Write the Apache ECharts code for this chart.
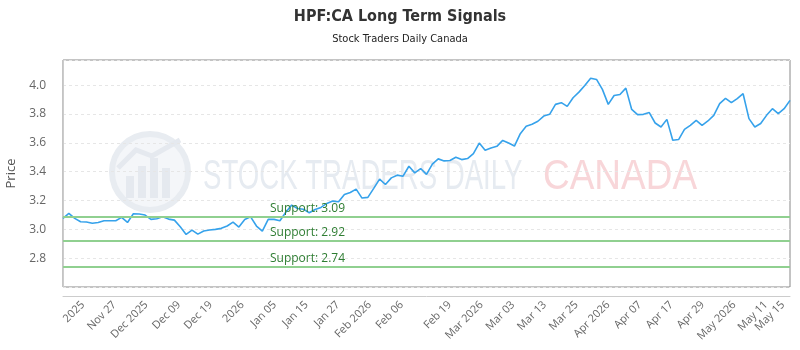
<!DOCTYPE html>
<html>
<head>
<meta charset="utf-8">
<script src="https://cdn.jsdelivr.net/npm/echarts@6/dist/echarts.min.js"></script>
<style>
html,body{margin:0;padding:0;background:#fff;}
#chart{width:800px;height:350px;}
</style>
</head>
<body>
<div id="chart"></div>
<script>
// ---- data ----
const prices = [
  3.076,3.111,3.076,3.053,3.051,3.042,3.048,3.060,3.060,3.060,
  3.083,3.048,3.108,3.106,3.099,3.069,3.073,3.087,3.071,3.064,
  3.018,2.965,2.995,2.967,2.988,2.995,3.000,3.007,3.023,3.050,
  3.016,3.069,3.087,3.023,2.988,3.069,3.069,3.060,3.119,3.168,
  3.145,3.140,3.115,3.138,3.152,3.180,3.196,3.191,3.242,3.256,
  3.279,3.217,3.222,3.284,3.348,3.311,3.357,3.376,3.369,3.438,
  3.392,3.422,3.381,3.452,3.489,3.475,3.478,3.500,3.484,3.491,
  3.526,3.599,3.548,3.564,3.576,3.617,3.599,3.578,3.664,3.715,
  3.729,3.750,3.786,3.798,3.867,3.879,3.853,3.913,3.952,3.998,
  4.049,4.040,3.971,3.867,3.929,3.936,3.980,3.832,3.796,3.798,
  3.810,3.738,3.710,3.763,3.618,3.623,3.694,3.722,3.756,3.722,
  3.752,3.791,3.872,3.909,3.879,3.907,3.941,3.768,3.710,3.734,
  3.791,3.837,3.803,3.837,3.895
];
const tickLabels = ["2025","Nov 27","Dec 2025","Dec 09","Dec 19","2026","Jan 05","Jan 15","Jan 27",
  "Feb 2026","Feb 06","Feb 19","Mar 2026","Mar 03","Mar 13","Mar 25","Apr 2026","Apr 07",
  "Apr 17","Apr 29","May 2026","May 11","May 15"];
const tickIndex = [3.40,8.80,14.21,19.78,25.19,30.60,36.11,41.52,46.91,52.32,57.78,65.97,
  71.38,76.77,82.18,87.59,92.99,98.40,103.8,109.1,114.5,119.9,122.8];
const supports = [3.09, 2.92, 2.74];
const yTicks = {min: 2.6, max: 4.175, interval: 0.2};

const chart = echarts.init(document.getElementById('chart'), null, {renderer: 'canvas'});
const seriesData = prices.map((v, i) => [i, v]);
const narrow = "'Liberation Sans Narrow','DejaVu Sans Condensed','Roboto Condensed',sans-serif";
const axisFont = "'Open Sans','Noto Sans',sans-serif";

const option = {
  animation: false,
  backgroundColor: '#fff',
  title: {
    text: 'HPF:CA Long Term Signals',
    subtext: 'Stock Traders Daily Canada',
    left: 'center',
    top: 4,
    itemGap: 9,
    textStyle: {fontFamily: narrow, fontSize: 16, fontWeight: 'bold', color: '#333'},
    subtextStyle: {fontFamily: narrow, fontSize: 11, color: '#222'}
  },
  graphic: [
    {type: 'circle', z: 0, shape: {cx: 150, cy: 172, r: 38}, style: {fill: '#f4f6f9', stroke: '#e8ecf1', lineWidth: 6}},
    {type: 'rect', z: 0, shape: {x: 126, y: 176, width: 8, height: 22}, style: {fill: '#e5e9ef'}},
    {type: 'rect', z: 0, shape: {x: 138, y: 166, width: 8, height: 32}, style: {fill: '#e5e9ef'}},
    {type: 'rect', z: 0, shape: {x: 150, y: 158, width: 8, height: 40}, style: {fill: '#e5e9ef'}},
    {type: 'rect', z: 0, shape: {x: 162, y: 168, width: 8, height: 30}, style: {fill: '#e5e9ef'}},
    {type: 'polyline', z: 0, shape: {points: [[118, 168], [136, 150], [152, 156], [180, 140]]}, style: {stroke: '#e5e9ef', lineWidth: 5, fill: null}},
    {type: 'text', z: 0, x: 203, y: 177, scaleX: 0.657,
      style: {text: 'STOCK TRADERS DAILY', fontSize: 42, fontFamily: "'Liberation Sans',sans-serif", fill: '#e6ebf1', verticalAlign: 'middle', align: 'left'}},
    {type: 'text', z: 0, x: 543, y: 177, scaleX: 0.88,
      style: {text: 'CANADA', fontSize: 42, fontFamily: "'Liberation Sans',sans-serif", fill: '#f8d6d9', verticalAlign: 'middle', align: 'left'}}
  ],
  grid: {
    left: 63, right: 10, top: 60, bottom: 63,
    show: true, borderColor: '#888', borderWidth: 1, backgroundColor: 'transparent',
    outerBoundsMode: 'none'
  },
  xAxis: {
    type: 'value',
    min: 0,
    max: prices.length - 1,
    offset: 9,
    axisLine: {show: true, lineStyle: {color: '#ccc', width: 1}},
    axisTick: {show: false},
    splitLine: {show: false},
    axisLabel: {
      customValues: tickIndex,
      rotate: 45,
      margin: 7,
      fontSize: 11,
      fontFamily: axisFont,
      color: '#666',
      formatter: function (v) {
        const k = tickIndex.indexOf(v);
        return k >= 0 ? tickLabels[k] : '';
      }
    }
  },
  yAxis: {
    type: 'value',
    min: yTicks.min,
    max: yTicks.max,
    interval: yTicks.interval,
    offset: 10,
    name: 'Price',
    nameLocation: 'middle',
    nameGap: 31,
    nameTextStyle: {fontFamily: axisFont, fontSize: 13, color: '#555'},
    axisLine: {show: true, lineStyle: {color: '#ccc', width: 1}},
    axisTick: {show: false},
    axisLabel: {
      showMinLabel: false,
      showMaxLabel: false,
      margin: 7,
      fontSize: 12,
      fontFamily: axisFont,
      color: '#666',
      formatter: v => v.toFixed(1)
    },
    splitLine: {show: true, lineStyle: {color: '#e6e6e6', type: [3, 3], width: 1}}
  },
  series: [{
    type: 'line',
    data: seriesData,
    showSymbol: false,
    z: 3,
    lineStyle: {color: '#36a2eb', width: 1.6},
    itemStyle: {color: '#36a2eb'},
    markLine: {
      silent: true,
      symbol: 'none',
      lineStyle: {color: '#90d090', width: 2, type: 'solid'},
      label: {
        show: true,
        position: 'insideStartTop',
        distance: [207, 2],
        fontSize: 12,
        fontFamily: axisFont,
        color: '#2e7d32'
      },
      data: supports.map(s => ({yAxis: s, label: {formatter: 'Support: ' + s.toFixed(2)}}))
    }
  }]
};
chart.setOption(option);
</script>
</body>
</html>
